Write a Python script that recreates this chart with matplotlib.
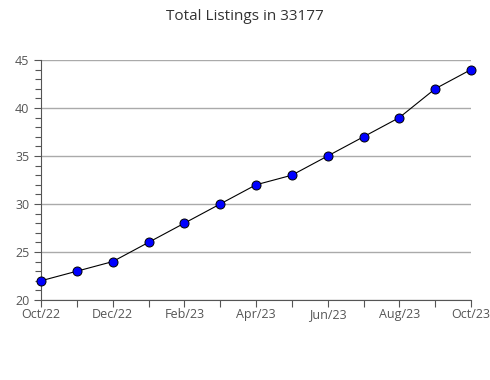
import matplotlib
matplotlib.use('Agg')
import matplotlib.pyplot as plt
from matplotlib.ticker import MultipleLocator

plt.rcParams['font.family'] = ['Open Sans', 'DejaVu Sans']

months = ['Oct/22', 'Nov/22', 'Dec/22', 'Jan/23', 'Feb/23', 'Mar/23', 'Apr/23',
          'May/23', 'Jun/23', 'Jul/23', 'Aug/23', 'Sep/23', 'Oct/23']
listings = [22, 23, 24, 26, 28, 30, 32, 33, 35, 37, 39, 42, 44]

fig = plt.figure(figsize=(4.9, 3.8), dpi=100)
ax = fig.add_axes([41 / 490, 1 - 300 / 380, 430 / 490, 240 / 380])

x = list(range(len(months)))
ax.plot(x, listings, '-', color='black', linewidth=0.8, zorder=3)
ax.plot(x, listings, 'o', markersize=6.5, markerfacecolor='#0000ff',
        markeredgecolor='black', markeredgewidth=0.7, zorder=4, clip_on=False)

ax.set_xlim(0, len(months) - 1)
ax.set_ylim(20, 45)
ax.yaxis.set_major_locator(MultipleLocator(5))
ax.yaxis.set_minor_locator(MultipleLocator(1))
ax.set_xticks(x)
ax.set_xticklabels([m if i % 2 == 0 else '' for i, m in enumerate(months)])

ax.grid(True, axis='y', which='major', color='#aaaaaa', linewidth=1)
for s in ['top', 'right']:
    ax.spines[s].set_visible(False)
for s in ['left', 'bottom']:
    ax.spines[s].set_color('#555555')
ax.tick_params(axis='both', which='major', colors='#555555', labelsize=9, length=5, width=0.8)
ax.tick_params(axis='y', which='minor', colors='#555555', length=4, width=0.8)
ax.tick_params(axis='x', pad=1)

fig.suptitle('Total Listings in 33177', y=0.975, fontsize=11, color='#333333')

fig.savefig('out.png', dpi=100)
